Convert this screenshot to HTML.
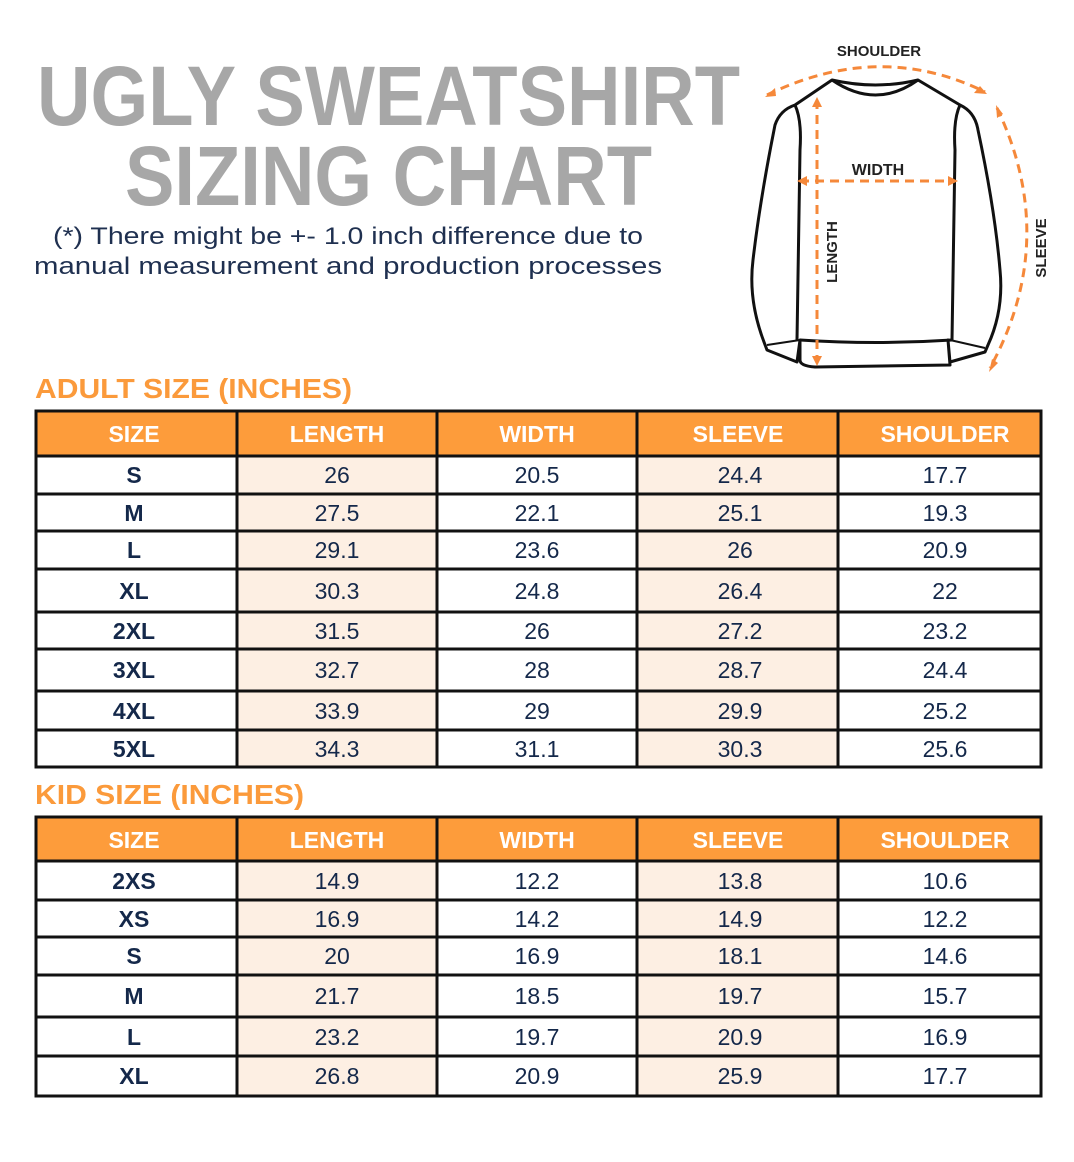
<!DOCTYPE html>
<html><head><meta charset="utf-8"><style>
html,body{margin:0;padding:0;background:#fff;}
svg{display:block;font-family:"Liberation Sans",sans-serif;}
.h{fill:#fff;font-weight:bold;font-size:23px;text-anchor:middle;}
.d{fill:#14284a;font-size:23px;text-anchor:middle;}
.s{fill:#14284a;font-size:23px;text-anchor:middle;font-weight:bold;}
</style></head><body>
<svg width="1074" height="1162" viewBox="0 0 1074 1162" xmlns="http://www.w3.org/2000/svg">
<rect width="1074" height="1162" fill="#fff"/>
<text x="37" y="125" font-size="84" font-weight="bold" fill="#a7a7a7" textLength="703" lengthAdjust="spacingAndGlyphs">UGLY SWEATSHIRT</text>
<text x="125" y="205" font-size="84" font-weight="bold" fill="#a7a7a7" textLength="527" lengthAdjust="spacingAndGlyphs">SIZING CHART</text>
<text x="348" y="244" font-size="24" fill="#1f3050" text-anchor="middle" textLength="590" lengthAdjust="spacingAndGlyphs">(*) There might be +- 1.0 inch difference due to</text>
<text x="348" y="274" font-size="24" fill="#1f3050" text-anchor="middle" textLength="628" lengthAdjust="spacingAndGlyphs">manual measurement and production processes</text>

<!-- sweatshirt -->
<g fill="none" stroke="#111" stroke-width="3" stroke-linejoin="round">
<path d="M832 80 Q876 90 918 80 L960 105 Q975 112 978 130 Q995 210 1000 270 Q1004 310 988 345 L985 352 L950 362 L948 340 L950 365 L815 367 Q800 366 800 360 L800 340 L797 362 L767 350 L764 342 Q748 300 753 260 Q760 200 775 125 Q780 110 795 105 Z"/>
<path d="M832 80 Q876 110 918 80"/>
<path d="M795 105 Q802 120 800 150 L797 340"/>
<path d="M960 105 Q953 120 955 150 L952 340"/>
<path d="M800 340 Q876 345 952 340"/>
<path d="M767 345 L800 340 M950 340 L985 348" stroke-width="2"/>
</g>
<g fill="none" stroke="#f5883a" stroke-width="3" stroke-dasharray="9 6">
<path d="M767 95 Q880 40 985 92"/>
<path d="M997 108 Q1060 240 990 368"/>
<path d="M800 181 L955 181"/>
<path d="M817 100 L817 362"/>
</g>
<g fill="#f5883a">
<path d="M765 97 l10 -9 l1 8z"/><path d="M987 94 l-13 -1 l6 -7z"/>
<path d="M996 105 l1 13 l6 -4z"/><path d="M989 372 l3 -13 l6 4z"/>
<path d="M797 181 l10 -5 l0 10z"/><path d="M958 181 l-10 -5 l0 10z"/>
<path d="M817 97 l-5 10 l10 0z"/><path d="M817 366 l-5 -10 l10 0z"/>
</g>
<text x="879" y="56" font-size="15" font-weight="bold" fill="#222" text-anchor="middle">SHOULDER</text>
<text x="878" y="175" font-size="16" font-weight="bold" fill="#222" text-anchor="middle">WIDTH</text>
<text transform="translate(837,252) rotate(-90)" font-size="15" font-weight="bold" fill="#222" text-anchor="middle">LENGTH</text>
<text transform="translate(1046,248) rotate(-90)" font-size="15" font-weight="bold" fill="#222" text-anchor="middle">SLEEVE</text>

<text x="35" y="398" font-size="28" font-weight="bold" fill="#fb9a3b" textLength="317" lengthAdjust="spacingAndGlyphs">ADULT SIZE (INCHES)</text>
<text x="35" y="804" font-size="28" font-weight="bold" fill="#fb9a3b" textLength="269" lengthAdjust="spacingAndGlyphs">KID SIZE (INCHES)</text>

<!-- adult table -->
<rect x="36" y="411" width="1005" height="45" fill="#fd9c3b"/>
<rect x="237" y="456" width="200" height="311" fill="#fdefe3"/>
<rect x="637" y="456" width="201" height="311" fill="#fdefe3"/>
<g stroke="#111" stroke-width="3" fill="none">
<rect x="36" y="411" width="1005" height="356"/>
<path d="M237 411V767M437 411V767M637 411V767M838 411V767"/>
<path d="M36 456H1041M36 494H1041M36 531H1041M36 569H1041M36 612H1041M36 649H1041M36 691H1041M36 730H1041"/>
</g>
<text class="h" x="134" y="442">SIZE</text><text class="h" x="337" y="442">LENGTH</text><text class="h" x="537" y="442">WIDTH</text><text class="h" x="738" y="442">SLEEVE</text><text class="h" x="945" y="442">SHOULDER</text>
<text class="s" x="134" y="483">S</text><text class="d" x="337" y="483">26</text><text class="d" x="537" y="483">20.5</text><text class="d" x="740" y="483">24.4</text><text class="d" x="945" y="483">17.7</text>
<text class="s" x="134" y="521">M</text><text class="d" x="337" y="521">27.5</text><text class="d" x="537" y="521">22.1</text><text class="d" x="740" y="521">25.1</text><text class="d" x="945" y="521">19.3</text>
<text class="s" x="134" y="558">L</text><text class="d" x="337" y="558">29.1</text><text class="d" x="537" y="558">23.6</text><text class="d" x="740" y="558">26</text><text class="d" x="945" y="558">20.9</text>
<text class="s" x="134" y="599">XL</text><text class="d" x="337" y="599">30.3</text><text class="d" x="537" y="599">24.8</text><text class="d" x="740" y="599">26.4</text><text class="d" x="945" y="599">22</text>
<text class="s" x="134" y="639">2XL</text><text class="d" x="337" y="639">31.5</text><text class="d" x="537" y="639">26</text><text class="d" x="740" y="639">27.2</text><text class="d" x="945" y="639">23.2</text>
<text class="s" x="134" y="678">3XL</text><text class="d" x="337" y="678">32.7</text><text class="d" x="537" y="678">28</text><text class="d" x="740" y="678">28.7</text><text class="d" x="945" y="678">24.4</text>
<text class="s" x="134" y="719">4XL</text><text class="d" x="337" y="719">33.9</text><text class="d" x="537" y="719">29</text><text class="d" x="740" y="719">29.9</text><text class="d" x="945" y="719">25.2</text>
<text class="s" x="134" y="757">5XL</text><text class="d" x="337" y="757">34.3</text><text class="d" x="537" y="757">31.1</text><text class="d" x="740" y="757">30.3</text><text class="d" x="945" y="757">25.6</text>

<!-- kid table -->
<rect x="36" y="817" width="1005" height="44" fill="#fd9c3b"/>
<rect x="237" y="861" width="200" height="235" fill="#fdefe3"/>
<rect x="637" y="861" width="201" height="235" fill="#fdefe3"/>
<g stroke="#111" stroke-width="3" fill="none">
<rect x="36" y="817" width="1005" height="279"/>
<path d="M237 817V1096M437 817V1096M637 817V1096M838 817V1096"/>
<path d="M36 861H1041M36 900H1041M36 937H1041M36 975H1041M36 1017H1041M36 1056H1041"/>
</g>
<text class="h" x="134" y="848">SIZE</text><text class="h" x="337" y="848">LENGTH</text><text class="h" x="537" y="848">WIDTH</text><text class="h" x="738" y="848">SLEEVE</text><text class="h" x="945" y="848">SHOULDER</text>
<text class="s" x="134" y="889">2XS</text><text class="d" x="337" y="889">14.9</text><text class="d" x="537" y="889">12.2</text><text class="d" x="740" y="889">13.8</text><text class="d" x="945" y="889">10.6</text>
<text class="s" x="134" y="927">XS</text><text class="d" x="337" y="927">16.9</text><text class="d" x="537" y="927">14.2</text><text class="d" x="740" y="927">14.9</text><text class="d" x="945" y="927">12.2</text>
<text class="s" x="134" y="964">S</text><text class="d" x="337" y="964">20</text><text class="d" x="537" y="964">16.9</text><text class="d" x="740" y="964">18.1</text><text class="d" x="945" y="964">14.6</text>
<text class="s" x="134" y="1004">M</text><text class="d" x="337" y="1004">21.7</text><text class="d" x="537" y="1004">18.5</text><text class="d" x="740" y="1004">19.7</text><text class="d" x="945" y="1004">15.7</text>
<text class="s" x="134" y="1045">L</text><text class="d" x="337" y="1045">23.2</text><text class="d" x="537" y="1045">19.7</text><text class="d" x="740" y="1045">20.9</text><text class="d" x="945" y="1045">16.9</text>
<text class="s" x="134" y="1084">XL</text><text class="d" x="337" y="1084">26.8</text><text class="d" x="537" y="1084">20.9</text><text class="d" x="740" y="1084">25.9</text><text class="d" x="945" y="1084">17.7</text>
</svg>
</body></html>
